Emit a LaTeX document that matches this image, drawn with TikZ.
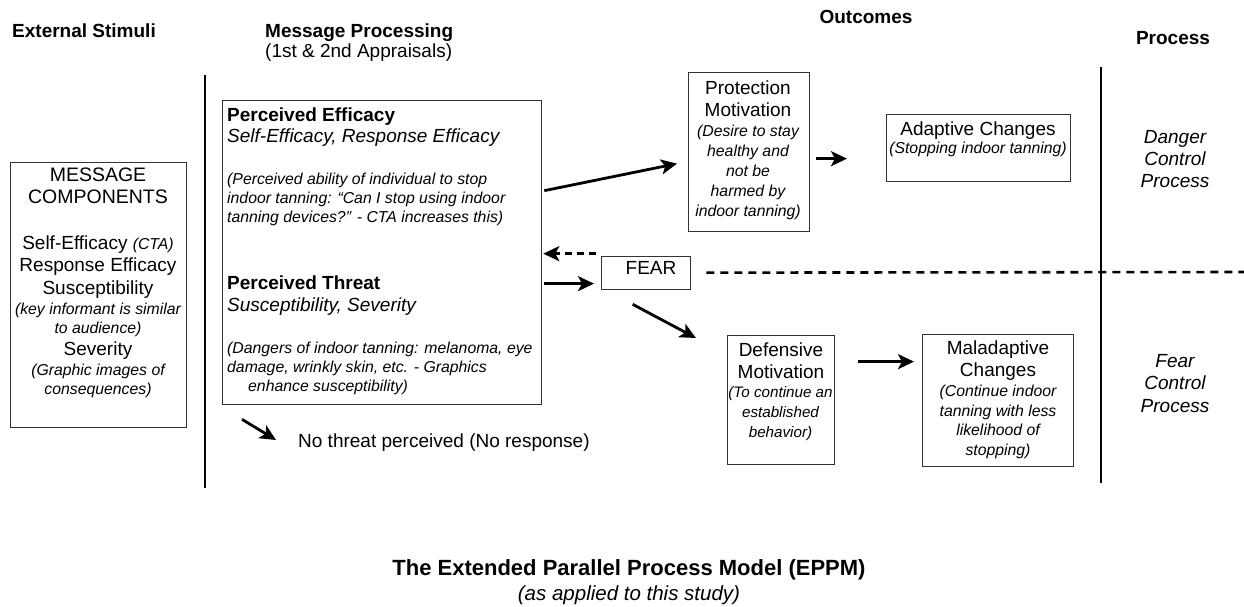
\documentclass[tikz,border=0pt]{standalone}
\usepackage{fontspec}
\setmainfont{Liberation Sans}
\usetikzlibrary{arrows.meta,calc}
\newcommand\fL{\fontsize{19}{22.5}\selectfont}
\newcommand\fS{\fontsize{15.8}{19.5}\selectfont}
\newcommand\fT{\fontsize{22}{26}\selectfont}
\newcommand\fU{\fontsize{20.5}{24}\selectfont}
\begin{document}
\begin{tikzpicture}[x=1pt,y=-1pt,
  box/.style={draw=black!80,line width=1.3pt,inner sep=0pt,anchor=north west},
  txt/.style={inner sep=0pt,align=center,anchor=north},
  ltxt/.style={inner sep=0pt,align=left,anchor=north west},
  arr/.style={line width=2.8pt,-{Stealth[length=16pt,width=15pt,inset=4pt]}},
  darr/.style={arr,dash pattern=on 7pt off 5pt},
  dline/.style={line width=2.6pt,dash pattern=on 8pt off 6pt},
  vline/.style={line width=1.8pt}]
\useasboundingbox[fill=white] (0,0) rectangle (1244,606);

% headers
\node[ltxt,font=\fL\bfseries] (h1) at (12,23.2) {External Stimuli};
\node[ltxt,font=\fL\bfseries] (h2) at (265,23.2) {Message Processing};
\node[ltxt,font=\fL] (h2b) at (265,43.2) {(1st \& 2nd Appraisals)};
\node[txt,font=\fL\bfseries] (h3) at (866,10.2) {Outcomes};
\node[txt,font=\fL\bfseries] (h4) at (1173,31.2) {Process};

% vertical lines
\draw[vline] (205,75) -- (205,488);
\draw[vline] (1101,67) -- (1101,483);

% message components
\node[box,minimum width=176pt,minimum height=265pt] (mc) at (10,162) {};
\node[txt,font=\fontsize{19.5}{22.5}\selectfont] (mc1) at (98,167.3) {MESSAGE\\COMPONENTS};
\node[txt,font=\fL] (mc2) at (98,235.3) {Self-Efficacy {\fS\itshape (CTA)}\\Response Efficacy\\Susceptibility};
\node[txt,font=\fS\itshape] (mc3) at (98,302.4) {(key informant is similar\\to audience)};
\node[txt,font=\fL] (mc4) at (98,341.3) {Severity};
\node[txt,font=\fS\itshape] (mc5) at (98,363.4) {(Graphic images of\\consequences)};

% perceived box
\node[box,minimum width=319pt,minimum height=304pt] (pbox) at (222,100) {};
\node[ltxt,font=\fontsize{19}{21}\selectfont] (pe) at (227,107.2) {\textbf{Perceived Efficacy}\\\textit{Self-Efficacy, Response Efficacy}};
\node[ltxt,font=\fontsize{15.8}{19}\selectfont\itshape] (ped) at (227,173.3) {(Perceived ability of individual to stop\\indoor tanning: “Can I stop using indoor\\tanning devices?” - CTA increases this)};
\node[ltxt,font=\fontsize{19}{22}\selectfont] (pt) at (227,275.2) {\textbf{Perceived Threat}\\\textit{Susceptibility, Severity}};
\node[ltxt,font=\fontsize{15.8}{19}\selectfont\itshape] (ptd) at (227,342.3) {(Dangers of indoor tanning: melanoma, eye\\damage, wrinkly skin, etc. - Graphics\\\hspace*{21pt}enhance susceptibility)};

% protection motivation
\node[box,minimum width=121pt,minimum height=159pt] (prot) at (688,72) {};
\node[txt,font=\fontsize{19}{22}\selectfont] (prot1) at (748,80.2) {Protection\\Motivation};
\node[txt,font=\fontsize{15.8}{20}\selectfont\itshape] (prot2) at (748,125.3) {(Desire to stay\\healthy and\\not be\\harmed by\\indoor tanning)};

% adaptive changes
\node[box,minimum width=184pt,minimum height=67pt] (adapt) at (886,114) {};
\node[txt,font=\fL] (ad1) at (978,121.2) {Adaptive Changes};
\node[txt,font=\fS\itshape] (ad2) at (978,142.3) {(Stopping indoor tanning)};

% fear
\node[box,minimum width=89pt,minimum height=33pt] (fear) at (601,256) {};
\node[txt,font=\fL] (fear1) at (651,261.2) {FEAR};

% defensive motivation
\node[box,minimum width=107pt,minimum height=129pt] (defm) at (727,335) {};
\node[txt,font=\fontsize{19}{22}\selectfont] (dm1) at (781,342.2) {Defensive\\Motivation};
\node[txt,font=\fontsize{15.2}{20}\selectfont\itshape] (dm2) at (780.5,386.5) {(To continue an\\established\\behavior)};

% maladaptive changes
\node[box,minimum width=151pt,minimum height=132pt] (malad) at (922,334) {};
\node[txt,font=\fontsize{19}{22}\selectfont] (ma1) at (998,340.2) {Maladaptive\\Changes};
\node[txt,font=\fontsize{15.8}{19.5}\selectfont\itshape] (ma2) at (998,385.3) {(Continue indoor\\tanning with less\\likelihood of\\stopping)};

% process labels
\node[txt,font=\fontsize{19}{22}\selectfont\itshape] (dcp) at (1175,130.2) {Danger\\Control\\Process};
\node[txt,font=\fontsize{19}{22.5}\selectfont\itshape] (fcp) at (1175,354.2) {Fear\\Control\\Process};

% no threat
\node[inner sep=0pt,anchor=west,font=\fL] (nt) at (298,443) {No threat perceived (No response)};

% title
\node[txt,font=\fT\bfseries] (title) at (629,559.1) {The Extended Parallel Process Model (EPPM)};
\node[txt,font=\fU\itshape] (sub) at (629,585.6) {(as applied to this study)};

% connectors
\draw[arr] ([xshift=2pt,yshift=62pt]pbox.east) -- ([xshift=-11pt,yshift=-11.5pt]prot.west);
\draw[arr] ([xshift=6pt,yshift=-6.5pt]prot.east) -- ([xshift=-39pt,yshift=-10.5pt]adapt.west);
\draw[darr] ([xshift=-5pt,yshift=19.5pt]fear.west) -- ([xshift=1pt,yshift=-1pt]pbox.east);
\draw[arr] ([xshift=2pt,yshift=-31pt]pbox.east) -- ([xshift=-7pt,yshift=-10.5pt]fear.west);
\draw[arr] ([xshift=-13.5pt,yshift=-14pt]fear.south) -- ([xshift=-31pt,yshift=-3pt]defm.north west);
\draw[arr] ([xshift=23pt,yshift=38.5pt]defm.east) -- ([xshift=-8pt,yshift=39pt]malad.west);
\draw[arr] ([xshift=20pt,yshift=-14pt]pbox.south west) -- ([xshift=-22pt,yshift=3pt]nt.west);
\coordinate (dend) at (1244,272);
\draw[dline] ([xshift=15pt,yshift=0.5pt]fear.east) -- (dend);
\end{tikzpicture}
\end{document}
